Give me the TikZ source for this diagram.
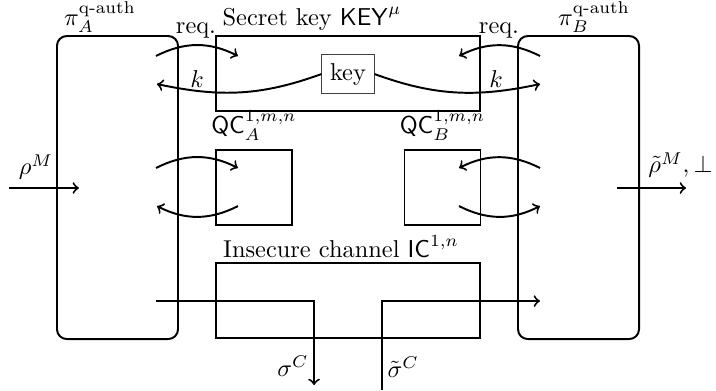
\documentclass[tikz,border=0pt]{standalone}
\usepackage{amsmath}
\usepackage{xcolor}
\usepackage{tikz}
\usetikzlibrary{positioning}

\begin{document}
\begin{tikzpicture}[
    party/.style={rectangle, rounded corners, draw=black, thick, minimum width=1.744cm, minimum height=4.366cm, inner sep=0pt},
    res/.style={rectangle, draw=black, thick, minimum height=1.081cm, inner sep=0pt},
    keybox/.style={rectangle, draw=black!75, thin},
    arrow/.style={->, thick}
]
\useasboundingbox (0,0) rectangle (10.317,5.620);

% protocols of A and B
\node[party] (pia) at (1.693,2.918) {};
\node[party] (pib) at (8.336,2.918) {};

% resources
\node[res, minimum width=3.804cm] (key) at (5.014,4.561) {};
\node[keybox] (keygen) at (5.014,4.553) {key};
\node[res, minimum width=1.095cm] (qca) at (3.660,2.918) {};
\node[res, minimum width=1.095cm] (qcb) at (6.376,2.918) {};
\node[res, minimum width=3.804cm] (ic) at (5.014,1.290) {};

% labels
\node[anchor=base] (pialabel) at (1.441,5.259) {$\pi_A^{\text{q-auth}}$};
\node[anchor=base] (piblabel) at (8.559,5.259) {$\pi_B^{\text{q-auth}}$};
\node[anchor=base] (keylabel) at (4.496,5.259) {Secret key $\mathsf{KEY}^\mu$};
\node[anchor=base] (reqa) at (2.824,5.144) {req.};
\node[anchor=base] (reqb) at (7.190,5.144) {req.};
\node (ka) at (2.839,4.481) {$k$};
\node (kb) at (7.147,4.481) {$k$};
\node[above=0pt of qca] (qcalabel) {$\mathsf{QC}_A^{1,m,n}$};
\node[above=0pt of qcb] (qcblabel) {$\mathsf{QC}_B^{1,m,n}$};
\node[anchor=base] (iclabel) at (4.914,1.916) {Insecure channel $\mathsf{IC}^{1,n}$};
\node (rhoin) at (0.519,3.213) {$\rho^M$};
\node[inner sep=1pt] (rhoout) at (9.805,3.242) {$\tilde{\rho}^M, \bot$};
\node (sigout) at (4.222,0.346) {$\sigma^C$};
\node[inner sep=1pt] (sigin) at (5.810,0.331) {$\tilde{\sigma}^C$};

% arrow ends
\coordinate (a1) at (2.248,4.813);
\coordinate (a2) at (3.429,4.813);
\coordinate (a3) at (2.262,4.409);
\coordinate (a4) at (2.248,3.199);
\coordinate (a5) at (3.429,3.199);
\coordinate (a6) at (3.429,2.651);
\coordinate (a7) at (2.262,2.651);
\coordinate (b1) at (7.781,4.813);
\coordinate (b2) at (6.614,4.813);
\coordinate (b3) at (7.781,4.409);
\coordinate (b4) at (7.781,3.199);
\coordinate (b5) at (6.614,3.199);
\coordinate (b6) at (6.614,2.651);
\coordinate (b7) at (7.781,2.651);
\coordinate (msga) at (2.248,1.282);
\coordinate (msgb) at (7.781,1.282);
\coordinate (sigdown) at (4.525,0.072);
\coordinate (sigup) at (5.504,0);
\coordinate (ina) at (0.130,2.911);
\coordinate (inb) at (1.138,2.911);
\coordinate (outa) at (8.890,2.911);
\coordinate (outb) at (9.885,2.911);

\draw[arrow] (a1) to[bend left=27] (a2);
\draw[arrow] (keygen.west) to[out=200, in=-12] (a3);
\draw[arrow] (a4) to[bend left=27] (a5);
\draw[arrow] (a6) to[bend left=27] (a7);
\draw[arrow] (b1) to[bend right=27] (b2);
\draw[arrow] (keygen.east) to[out=-20, in=192] (b3);
\draw[arrow] (b4) to[bend right=27] (b5);
\draw[arrow] (b6) to[bend right=27] (b7);

\draw[arrow] (msga) -| (sigdown);
\draw[arrow] (sigup) |- (msgb);
\draw[arrow] (ina) -- (inb);
\draw[arrow] (outa) -- (outb);
\end{tikzpicture}
\end{document}
